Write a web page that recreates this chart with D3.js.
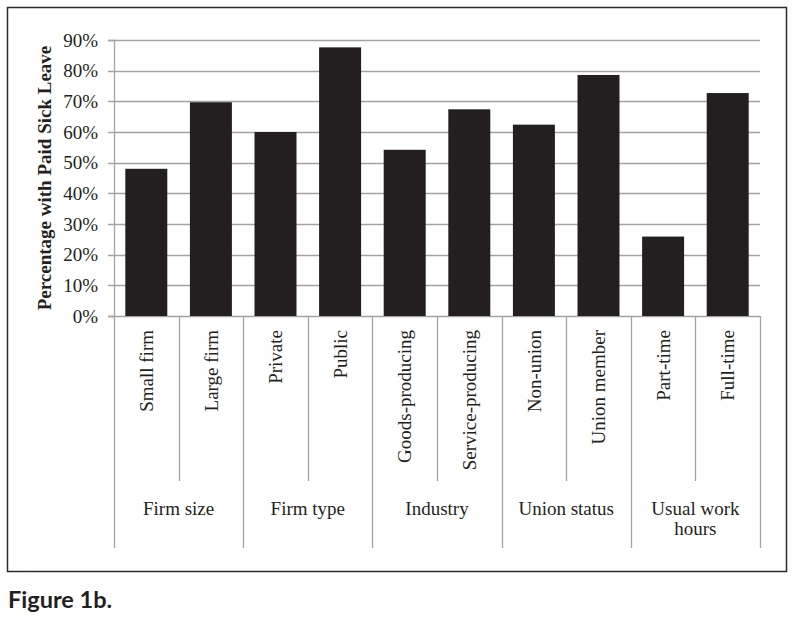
<!DOCTYPE html>
<html>
<head>
<meta charset="utf-8">
<script src="https://cdn.jsdelivr.net/npm/d3@7"></script>
<style>
  body { margin: 0; background: #fff; }
  svg text { font-family: "Liberation Serif", "Times New Roman", serif; fill: #231f20; }
</style>
</head>
<body>
<div id="chart-area"></div>
<script>
const categories = ["Small firm", "Large firm", "Private", "Public", "Goods-producing",
    "Service-producing", "Non-union", "Union member", "Part-time", "Full-time"];
const groups = ["Firm size", "Firm type", "Industry", "Union status", "Usual work hours"];
const values = [0.48, 0.697, 0.60, 0.876, 0.542, 0.674, 0.624, 0.786, 0.259, 0.727];
const yTicks = [0, 0.1, 0.2, 0.3, 0.4, 0.5, 0.6, 0.7, 0.8, 0.9];

const width = 795;
const height = 622;
const plot = { left: 114, right: 760, top: 40, bottom: 316 };
const gridColor = "#a3a3a3";

const svg = d3.select("#chart-area")
    .append("svg")
    .attr("width", width)
    .attr("height", height);

// frame round the chart
svg.append("rect")
    .attr("x", 7.5).attr("y", 7.5)
    .attr("width", 779).attr("height", 564)
    .attr("fill", "#fff")
    .attr("stroke", "#2a2a2a")
    .attr("stroke-width", 1.5);

const y = d3.scaleLinear()
    .domain([0, 0.9])
    .range([plot.bottom, plot.top]);

const x = d3.scaleBand()
    .domain(categories)
    .range([plot.left, plot.right])
    .paddingInner(0.35)
    .paddingOuter(0.175);

// gridlines (they run a little past the axis as tick marks)
svg.append("g")
    .selectAll("line")
    .data(yTicks)
    .join("line")
    .attr("x1", plot.left - 6)
    .attr("x2", plot.right)
    .attr("y1", d => Math.round(y(d)) + 0.5)
    .attr("y2", d => Math.round(y(d)) + 0.5)
    .attr("stroke", gridColor)
    .attr("stroke-width", 1.3);

const yAxis = svg.append("g")
    .attr("transform", `translate(${plot.left},0)`)
    .call(d3.axisLeft(y).tickValues(yTicks).tickFormat(d3.format(".0%")).tickSize(6).tickPadding(10));
yAxis.select(".domain").attr("stroke", gridColor).attr("stroke-width", 1.3);
yAxis.selectAll(".tick line").remove();
yAxis.selectAll("text")
    .attr("font-size", 19)
    .attr("font-family", "Liberation Serif")
    .attr("fill", "#231f20");

svg.append("text")
    .attr("transform", `translate(51,${(plot.top + plot.bottom) / 2}) rotate(-90)`)
    .attr("text-anchor", "middle")
    .attr("font-size", 19)
    .attr("font-weight", "bold")
    .text("Percentage with Paid Sick Leave");

// bars
svg.append("g")
    .selectAll("rect")
    .data(values)
    .join("rect")
    .attr("x", (d, i) => x(categories[i]))
    .attr("width", x.bandwidth())
    .attr("y", d => y(d))
    .attr("height", d => y(0) - y(d))
    .attr("fill", "#231f20");

// separators below the axis
const step = x.step();
const x0 = plot.left;
svg.append("g")
    .selectAll("line")
    .data(d3.range(categories.length + 1))
    .join("line")
    .attr("x1", i => Math.round(x0 + i * step) + 0.5)
    .attr("x2", i => Math.round(x0 + i * step) + 0.5)
    .attr("y1", plot.bottom)
    .attr("y2", i => i % 2 === 0 ? 548 : 481)
    .attr("stroke", gridColor)
    .attr("stroke-width", 1.3);

// category labels
svg.append("g")
    .selectAll("text")
    .data(categories)
    .join("text")
    .attr("transform", d => `translate(${x(d) + x.bandwidth() / 2},330) rotate(-90)`)
    .attr("dy", "0.35em")
    .attr("text-anchor", "end")
    .attr("font-size", 19)
    .text(d => d);

// group labels, wrapped when wider than the group
const groupWidth = step * 2;
const gText = svg.append("g")
    .selectAll("text")
    .data(groups)
    .join("text")
    .attr("x", (d, i) => x0 + (i * 2 + 1) * step)
    .attr("y", 515)
    .attr("text-anchor", "middle")
    .attr("font-size", 19);

gText.each(function(d, i) {
    const t = d3.select(this);
    const cx = x0 + (i * 2 + 1) * step;
    const words = d.split(" ");
    let line = [];
    let tspan = t.append("tspan").attr("x", cx);
    words.forEach(w => {
        line.push(w);
        tspan.text(line.join(" "));
        if (tspan.node().getComputedTextLength() > groupWidth - 6 && line.length > 1) {
            line.pop();
            tspan.text(line.join(" "));
            line = [w];
            tspan = t.append("tspan").attr("x", cx).attr("dy", 20).text(w);
        }
    });
});

svg.append("text")
    .attr("x", 8)
    .attr("y", 608)
    .attr("font-weight", "bold")
    .attr("font-size", 23.5)
    .style("font-family", "Lato, sans-serif")
    .text("Figure 1b.");
</script>
</body>
</html>
